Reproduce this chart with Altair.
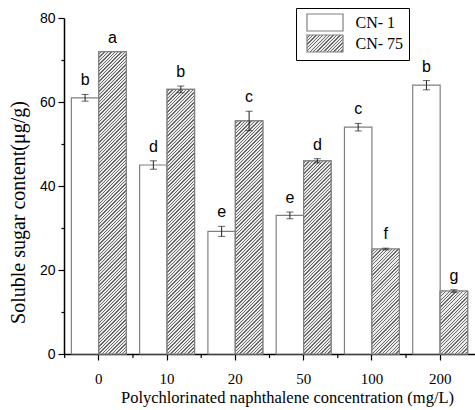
import altair as alt
import pandas as pd

conc = ["0", "10", "20", "50", "100", "200"]
series = ["CN- 1", "CN- 75"]
cn1 = [61.0, 45.0, 29.2, 33.0, 54.0, 64.0]
cn1_err = [0.8, 1.0, 1.2, 0.8, 0.9, 1.1]
cn1_sig = ["b", "d", "e", "e", "c", "b"]
cn75 = [72.0, 63.0, 55.5, 46.0, 25.0, 15.0]
cn75_err = [0.0, 0.8, 2.3, 0.5, 0.2, 0.3]
cn75_sig = ["a", "b", "c", "d", "f", "g"]

rows = []
for i, c in enumerate(conc):
    rows.append({"conc": c, "series": series[0], "value": cn1[i], "err": cn1_err[i], "sig": cn1_sig[i]})
    rows.append({"conc": c, "series": series[1], "value": cn75[i], "err": cn75_err[i], "sig": cn75_sig[i]})
df = pd.DataFrame(rows)

# diagonal hatch built as a striped linear gradient
L = 340.0
period = 3.4
n = int(L / period)
light, dark = "#ececec", "#6a6a6a"
stops = []
for k in range(n):
    a = k / n
    b = (k + 0.62) / n
    e = (k + 1) / n
    stops += [
        {"offset": round(a, 5), "color": light},
        {"offset": round(b, 5), "color": light},
        {"offset": round(b, 5), "color": dark},
        {"offset": round(e, 5), "color": dark},
    ]
hatch = alt.param(name="hatch", value=stops)

w = "bandwidth('xOffset')"
h = "(scale('y',0)-scale('y',datum.value))"
bar_grad = (
    "{gradient:'linear',x1:0,y1:0,"
    f"x2:{L}*{w}/(pow({w},2)+pow({h},2)),"
    f"y2:{L}*{h}/(pow({w},2)+pow({h},2)),"
    "stops:hatch}"
)
lw, lh = 36.0, 17.0
leg_grad = (
    "{gradient:'linear',x1:0,y1:0,"
    f"x2:{L * lw / (lw * lw + lh * lh):.5f},y2:{L * lh / (lw * lw + lh * lh):.5f},"
    "stops:hatch}"
)

x_axis = alt.Axis(
    title="Polychlorinated naphthalene concentration (mg/L)",
    labelAngle=0, labelFont="Liberation Serif", labelFontSize=15, labelPadding=11,
    labelColor="black", tickSize=6, tickColor="black", tickWidth=1.2,
    domainColor="black", domainWidth=1.5,
    titleFont="Liberation Serif", titleFontSize=16.5, titleFontWeight="normal",
    titleColor="black", titleX=223, titleY=48, titleAlign="center",
    titleBaseline="alphabetic",
)
y_axis = alt.Axis(
    title="Soluble sugar content(μg/g)",
    values=[0, 10, 20, 30, 40, 50, 60, 70, 80],
    labelExpr="datum.value % 20 === 0 ? datum.label : ''",
    labelFont="Liberation Sans", labelFontSize=14, labelPadding=3, labelColor="black",
    tickSize={"condition": {"test": "datum.value % 20 === 0", "value": 6}, "value": 3},
    tickColor="black", tickWidth=1.2, domainColor="black", domainWidth=1.5, grid=False,
    titleFont="Liberation Serif", titleFontSize=20, titleFontWeight="normal",
    titleColor="black", titleX=-46, titleY=194, titleAngle=270, titleAlign="center",
    titleBaseline="middle",
)

xs = alt.Scale(paddingInner=0, paddingOuter=0.01)
X = alt.X("conc:N", sort=conc, scale=xs, axis=x_axis)
XO = alt.XOffset("series:N", sort=series, scale=alt.Scale(paddingInner=0, paddingOuter=0.243))
ys = alt.Scale(domain=[0, 80], nice=False)

base = alt.Chart(df)

bars = base.mark_bar(stroke="#808080", strokeWidth=1.2).encode(
    x=X, xOffset=XO,
    y=alt.Y("value:Q", scale=ys, axis=y_axis),
    fill=alt.Fill(
        "series:N",
        scale=alt.Scale(domain=series, range=["white", alt.ExprRef(leg_grad)]),
        legend=alt.Legend(
            title=None, orient="none", legendX=232, legendY=-10, padding=5,
            strokeColor="black", fillColor="white",
            symbolType="M-2.118,-1H2.118V1H-2.118Z", symbolSize=289,
            symbolStrokeColor="#808080", symbolStrokeWidth=1.2,
            symbolOffset=14.5, labelOffset=21,
            labelFont="Liberation Serif", labelFontSize=16, labelColor="black",
            rowPadding=-3,
            labelExpr="datum.label + '\u00a0\u00a0\u00a0\u00a0\u00a0\u00a0'",
        ),
    ),
)

hatched = base.transform_filter(alt.datum.series == series[1]).mark_bar(
    stroke="#808080", strokeWidth=1.2
).encode(
    x=X, xOffset=XO,
    y=alt.Y("value:Q", scale=ys, axis=y_axis),
    fill=alt.value(alt.ExprRef(bar_grad)),
)

err_base = base.transform_filter(alt.datum.err > 0).transform_calculate(
    lo="datum.value - datum.err", hi="datum.value + datum.err"
)
err_rule = err_base.mark_rule(color="#222222", strokeWidth=1).encode(
    x=X, xOffset=XO,
    y=alt.Y("lo:Q", scale=ys, axis=y_axis), y2="hi:Q",
)
cap_lo = err_base.mark_tick(color="#222222", thickness=1, size=7).encode(
    x=X, xOffset=XO, y=alt.Y("lo:Q", scale=ys, axis=y_axis)
)
cap_hi = err_base.mark_tick(color="#222222", thickness=1, size=7).encode(
    x=X, xOffset=XO, y=alt.Y("hi:Q", scale=ys, axis=y_axis)
)

labels = base.transform_calculate(top="datum.value + datum.err").mark_text(
    font="Liberation Sans", fontSize=16, baseline="alphabetic", dy=-9, color="black"
).encode(
    x=X, xOffset=XO,
    y=alt.Y("top:Q", scale=ys, axis=y_axis),
    text="sig:N",
)

minor = alt.Chart(pd.DataFrame({"conc": conc})).mark_rule(color="black", strokeWidth=1.2).encode(
    x=alt.X("conc:N", sort=conc, scale=xs, axis=x_axis, bandPosition=0),
    y=alt.value(336), y2=alt.value(340),
)

chart = alt.layer(bars, hatched, err_rule, cap_lo, cap_hi, labels, minor).add_params(
    hatch
).properties(
    width=411, height=336,
    padding={"left": 64, "top": 18, "right": 0, "bottom": 56},
    autosize=alt.AutoSizeParams(type="none"),
    background="white",
).configure_view(stroke=None)

chart.save("out.html", embed_options={"renderer": "svg", "actions": False})
